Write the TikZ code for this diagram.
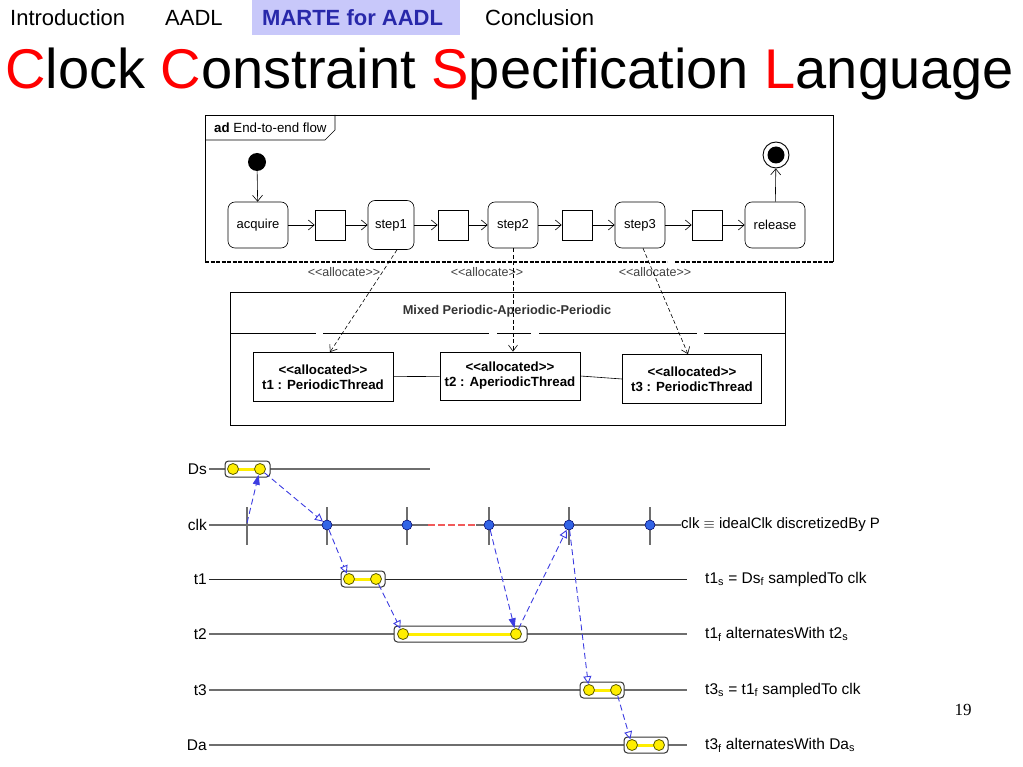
\documentclass[tikz,border=0pt]{standalone}
\usepackage{fontspec}
\setmainfont{Liberation Sans}
\newfontfamily\pagenumfont{Liberation Serif}
\usetikzlibrary{arrows.meta,calc}
\definecolor{navbg}{RGB}{200,200,250}
\definecolor{navfg}{RGB}{40,40,170}
\definecolor{dblue}{RGB}{60,60,225}
\definecolor{dotblue}{RGB}{50,100,230}
\definecolor{lgray}{RGB}{110,110,110}
\definecolor{yel}{RGB}{255,238,0}
\definecolor{yelline}{RGB}{90,90,0}
\definecolor{redash}{RGB}{240,90,90}
\begin{document}
\begin{tikzpicture}[x=1pt,y=-1pt,
  navtxt/.style={anchor=base west, font=\fontsize{22}{24}\selectfont, inner sep=0pt},
  act/.style={draw, rounded corners=7pt, minimum height=46pt, font=\fontsize{13}{15}\selectfont, inner sep=2pt, line width=0.6pt},
  pinbox/.style={draw, minimum width=30pt, minimum height=30pt, inner sep=0pt, line width=0.6pt},
  flow/.style={-{Straight Barb[length=6pt,width=10pt]}, line width=0.6pt},
  alloc/.style={dashed, dash pattern=on 4pt off 2.5pt, -{Straight Barb[length=6pt,width=9pt]}, line width=0.6pt},
  smalltxt/.style={font=\fontsize{12.5}{14}\selectfont, text=black!75, inner sep=0pt},
  thread/.style={draw, line width=0.8pt, minimum width=140pt, minimum height=49pt, align=center, font=\bfseries\fontsize{13.3}{15}\selectfont, inner sep=1pt},
  rowlab/.style={anchor=east, font=\fontsize{15.5}{17}\selectfont, inner sep=2pt},
  rowtxt/.style={anchor=west, font=\fontsize{15.5}{17}\selectfont, inner sep=0pt},
  gline/.style={draw=lgray, line width=1.3pt},
  bline/.style={draw=black!85, line width=0.9pt},
  tick/.style={draw=lgray, line width=1.3pt},
  cdot/.style={circle, fill=dotblue, draw=blue!40!black, line width=0.5pt, minimum size=10pt, inner sep=0pt},
  ydot/.style={circle, fill=yel, draw=yelline, line width=0.8pt, minimum size=11pt, inner sep=0pt},
  ibox/.style={draw=black!80, line width=1pt, rounded corners=3.5pt, fill=white},
  ybar/.style={draw=yel, line width=3pt},
  oarr/.style={draw=dblue, dashed, dash pattern=on 6pt off 3.5pt, line width=0.9pt, -{Triangle[open, length=8pt, width=8pt]}},
  farr/.style={draw=dblue, dashed, dash pattern=on 6pt off 3.5pt, line width=0.9pt, -{Triangle[fill=dblue, length=10pt, width=7pt]}}
]
\useasboundingbox (0,0) rectangle (1023,767);
% ---------- navigation ----------
\fill[navbg] (252,0) rectangle (460,35);
\node[navtxt] (nav1) at (10,26) {Introduction};
\node[navtxt] (nav2) at (165,26) {AADL};
\node[navtxt, text=navfg, font=\bfseries\fontsize{22}{24}\selectfont] (nav3) at (262,26) {MARTE for AADL};
\node[navtxt] (nav4) at (485,26) {Conclusion};
% ---------- title ----------
\node[anchor=base west, inner sep=0pt, font=\fontsize{56}{60}\selectfont] (title) at (5,89)
  {\textcolor{red}{C}lock \textcolor{red}{C}onstraint \textcolor{red}{S}pecification \textcolor{red}{L}anguage};
% ---------- activity diagram frame ----------
\draw[line width=0.7pt] (205,262) -- (205,115) -- (833,115) -- (833,262);
\draw[line width=0.7pt] (205,140) -- (325,140) -- (335,130) -- (335,115);
\node[anchor=west, inner sep=0pt, font=\fontsize{13.3}{15}\selectfont] (tab) at (214,128) {\textbf{ad} End-to-end flow};
\draw[line width=1.8pt, dash pattern=on 4pt off 1.5pt] (205,262) -- (667,262);
\draw[line width=1.8pt, dash pattern=on 4pt off 1.5pt] (675,262) -- (833,262);
% nodes
\node[circle, fill=black, minimum size=18pt, inner sep=0pt] (start) at (257,162) {};
\node[circle, draw, line width=0.9pt, minimum size=26pt, inner sep=0pt] (final) at (776,155) {};
\node[circle, fill=black, minimum size=17pt, inner sep=0pt] (finalin) at (776,155) {};
\node[act, minimum width=60pt] (acquire) at (258,225) {acquire};
\node[pinbox] (p1) at (330,225) {};
\node[act, minimum width=46pt, minimum height=49pt] (step1) at (391,225) {step1};
\node[pinbox] (p2) at (453,225) {};
\node[act, minimum width=50pt] (step2) at (513,225) {step2};
\node[pinbox] (p3) at (577,225) {};
\node[act, minimum width=50pt] (step3) at (640,225) {step3};
\node[pinbox] (p4) at (707,225) {};
\node[act, minimum width=60pt] (release) at (775,225) {release};
\draw[flow] (start) -- (acquire);
\draw[flow] (acquire) -- (p1);
\draw[flow] (p1) -- (step1);
\draw[flow] (step1) -- (p2);
\draw[flow] (p2) -- (step2);
\draw[flow] (step2) -- (p3);
\draw[flow] (p3) -- (step3);
\draw[flow] (step3) -- (p4);
\draw[flow] (p4) -- (release);
\draw[flow] (release) -- (final);
% ---------- allocation ----------
\draw[line width=0.8pt] (230,292) rectangle (785,425);
\foreach \a/\b in {230/316, 323/489, 497/531, 539/697, 704/785}
  \draw[line width=0.8pt] (\a,333) -- (\b,333);
\node[font=\bfseries\fontsize{12.8}{14}\selectfont, text=black!80, inner sep=0pt] (mixed) at (507,311) {Mixed Periodic-Aperiodic-Periodic};
\node[thread] (t1) at (323,377) {<{}<allocated>{}>\\t1 : PeriodicThread};
\node[thread, minimum height=48pt] (t2) at (510,376) {<{}<allocated>{}>\\t2 : AperiodicThread};
\node[thread, minimum width=139pt] (t3) at (692,379) {<{}<allocated>{}>\\t3 : PeriodicThread};
\draw[line width=0.6pt] (t1) -- (t2);
\draw[line width=0.6pt] (t2.east) -- (t3.west);
\node[smalltxt] (al1) at (344,272) {<{}<allocate>{}>};
\node[smalltxt] (al2) at (487,272) {<{}<allocate>{}>};
\node[smalltxt] (al3) at (655,272) {<{}<allocate>{}>};
\draw[alloc] ($(step1.south)+(6,0)$) -- ($(t1.north)+(7,0)$);
\draw[alloc] (step2.south) -- ($(t2.north)+(3,0)$);
\draw[alloc] ($(step3.south)+(3,0)$) -- ($(t3.north)+(-4,0)$);
% ---------- timing diagram ----------
\node[rowlab] (lDs) at (209,469) {Ds};
\node[rowlab] (lclk) at (209,525) {clk};
\node[rowlab] (lt1) at (209,579) {t1};
\node[rowlab] (lt2) at (209,634) {t2};
\node[rowlab] (lt3) at (209,690) {t3};
\node[rowlab] (lDa) at (209,745) {Da};
\coordinate (eDs) at (430,469);
\coordinate (rA) at (428,525);
\coordinate (rB) at (476,525);
\node[rowtxt, font=\fontsize{15}{17}\selectfont] (tclk) at (681,525) {clk $\equiv$ idealClk discretizedBy P};
\node[rowtxt] (tt1) at (705,579) {t1\textsubscript{s} = Ds\textsubscript{f} sampledTo clk};
\node[rowtxt] (tt2) at (705,634) {t1\textsubscript{f} alternatesWith t2\textsubscript{s}};
\node[rowtxt] (tt3) at (705,690) {t3\textsubscript{s} = t1\textsubscript{f} sampledTo clk};
\node[rowtxt] (tDa) at (705,745) {t3\textsubscript{f} alternatesWith Da\textsubscript{s}};
\coordinate (e1) at (687,579);
\coordinate (e2) at (687,634);
\coordinate (e3) at (687,690);
\coordinate (e4) at (687,745);
\draw[gline] (lDs.east) -- (eDs);
\draw[gline] (lclk.east) -- (rA);
\draw[redash, line width=1.3pt, dash pattern=on 7pt off 3pt] (rA) -- (rB);
\draw[gline] (rB) -- (tclk.west);
\draw[bline] (lt1.east) -- (e1);
\draw[gline] (lt2.east) -- (e2);
\draw[gline] (lt3.east) -- (e3);
\draw[gline] (lDa.east) -- (e4);
% clock ticks
\coordinate (ck0) at (247,525);
\foreach \x in {247,327,407,489,569,650}
  \draw[tick] (\x,507) -- (\x,545);
\node[cdot] (ck1) at (327,525) {};
\node[cdot] (ck2) at (407,525) {};
\node[cdot] (ck3) at (489,525) {};
\node[cdot] (ck4) at (569,525) {};
\node[cdot] (ck5) at (650,525) {};
% intervals
\draw[ibox] (225,461) rectangle (270,477);
\draw[ybar] (233,469) -- (260,469);
\node[ydot] (Ds1) at (233,469) {};
\node[ydot] (Ds2) at (260,469) {};
\draw[ibox] (341,571) rectangle (385,587);
\draw[ybar] (349,579) -- (376,579);
\node[ydot] (t1a) at (349,579) {};
\node[ydot] (t1b) at (376,579) {};
\draw[ibox] (394,626) rectangle (527,642);
\draw[ybar] (403,634) -- (516,634);
\node[ydot] (t2a) at (403,634) {};
\node[ydot] (t2b) at (516,634) {};
\draw[ibox] (580,682) rectangle (624,698);
\draw[ybar] (589,690) -- (616,690);
\node[ydot] (t3a) at (589,690) {};
\node[ydot] (t3b) at (616,690) {};
\draw[ibox] (624,737) rectangle (668,753);
\draw[ybar] (632,745) -- (659,745);
\node[ydot] (Da1) at (632,745) {};
\node[ydot] (Da2) at (659,745) {};
% causal arrows
\draw[farr] ($(ck0)+(0,-2)$) -- (Ds2);
\draw[oarr] (Ds2) -- (ck1);
\draw[oarr] (ck1) -- (t1a);
\draw[oarr] (t1b) -- (t2a);
\draw[farr] (ck3) -- (t2b);
\draw[oarr] (t2b) -- (ck4);
\draw[oarr] (ck4) -- (t3a);
\draw[oarr] (t3b) -- (Da1);
% page number
\node[font=\pagenumfont\fontsize{17}{19}\selectfont, inner sep=0pt] (pnum) at (963,710) {19};
\end{tikzpicture}
\end{document}
